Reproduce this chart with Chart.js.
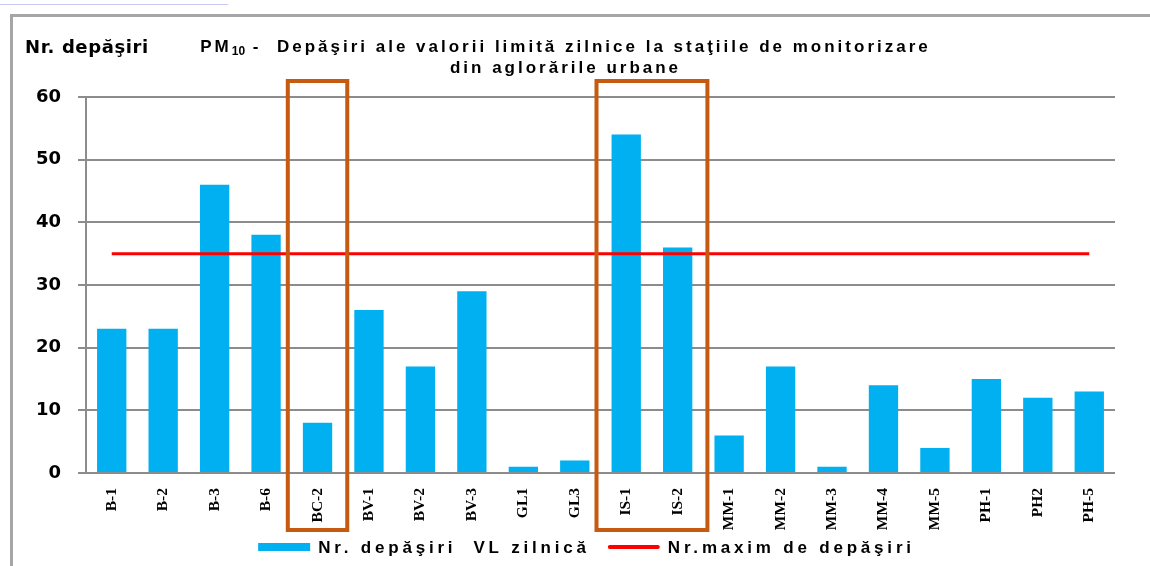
<!DOCTYPE html>
<html>
<head>
<meta charset="utf-8">
<script src="https://cdn.jsdelivr.net/npm/chart.js@4"></script>
<style>
  body { margin: 0; background: #fff; }
  #wrap { position: relative; width: 1150px; height: 566px; overflow: hidden; }
  #frame { position: absolute; left: 10px; top: 14px; right: -5px; bottom: -5px;
           border-left: 3px solid #a6a6a6; border-top: 3px solid #a6a6a6; }
  #topline { position: absolute; left: 0; top: 4px; width: 228px; height: 1px; background: #c8c8f4; }
  canvas { position: absolute; left: 0; top: 0; }
</style>
</head>
<body>
<div id="wrap">
  <div id="topline"></div>
  <div id="frame"></div>
  <canvas id="chart" width="1150" height="566"></canvas>
</div>
<script>
const categories = ['B-1', 'B-2', 'B-3', 'B-6', 'BC-2', 'BV-1', 'BV-2', 'BV-3', 'GL1', 'GL3',
  'IS-1', 'IS-2', 'MM-1', 'MM-2', 'MM-3', 'MM-4', 'MM-5', 'PH-1', 'PH2', 'PH-5'];
const exceedances = [23, 23, 46, 38, 8, 26, 17, 29, 1, 2, 54, 36, 6, 17, 1, 14, 4, 15, 12, 13];
const maxExceedances = [35, 35, 35, 35, 35, 35, 35, 35, 35, 35, 35, 35, 35, 35, 35, 35, 35, 35, 35, 35];
const boxedGroups = [['BC-2'], ['IS-1', 'IS-2']];
const yMin = 0, yMax = 60, yStep = 10;

// first title line is split so "10" can be drawn as a subscript
const titleLine1 = [['PM', false], ['10', true], [' -  Depăşiri ale valorii limită zilnice la staţiile de monitorizare', false]];
const titleLine2 = 'din aglorările urbane';
const yAxisTitle = 'Nr. depăşiri';
const seriesNames = ['Nr. depăşiri  VL zilnică', 'Nr.maxim de depăşiri'];

const TITLE_FONT = 'bold 17px "Liberation Sans", Arial, sans-serif';
const SUB_FONT = 'bold 12px "Liberation Sans", Arial, sans-serif';

// title, legend, y caption and the highlight rectangles (the spaced-out
// lettering of the original needs letterSpacing, which Chart.js can't do)
const overlay = {
  id: 'overlay',
  afterDraw(chart) {
    const ctx = chart.ctx;
    const x = chart.scales.x;
    const area = chart.chartArea;
    const half = (x.getPixelForValue(1) - x.getPixelForValue(0)) / 2;
    ctx.save();

    ctx.strokeStyle = '#c55a11';
    ctx.lineWidth = 4;
    boxedGroups.forEach(g => {
      const left = x.getPixelForValue(categories.indexOf(g[0])) - half - 4;
      const right = x.getPixelForValue(categories.indexOf(g[g.length - 1])) + half + 4;
      ctx.strokeRect(left, area.top - 16, right - left, area.bottom - area.top + 73);
    });

    ctx.fillStyle = '#000';
    ctx.textBaseline = 'middle';
    ctx.textAlign = 'left';
    ctx.font = 'bold 18px "DejaVu Sans"';
    ctx.letterSpacing = '0.6px';
    ctx.fillText(yAxisTitle, area.left - 61, area.top - 49);

    // title
    const cx = (area.left + area.right) / 2 - 35;
    ctx.letterSpacing = '3px';
    const parts = titleLine1.map(([t, sub]) => {
      ctx.font = sub ? SUB_FONT : TITLE_FONT;
      ctx.letterSpacing = sub ? '0px' : '3px';
      return { t, sub, w: ctx.measureText(t).width };
    });
    let tx = cx - parts.reduce((s, p) => s + p.w, 0) / 2;
    parts.forEach(p => {
      ctx.font = p.sub ? SUB_FONT : TITLE_FONT;
      ctx.letterSpacing = p.sub ? '0px' : '3px';
      ctx.fillText(p.t, tx, area.top - 50 + (p.sub ? 5 : 0));
      tx += p.w;
    });
    ctx.font = TITLE_FONT;
    ctx.letterSpacing = '3px';
    ctx.textAlign = 'center';
    ctx.fillText(titleLine2, cx, area.top - 29);

    // legend
    ctx.letterSpacing = '3.8px';
    ctx.textAlign = 'left';
    const ds = chart.data.datasets;
    const markW = 52, gap = 8, itemGap = 18;
    const widths = seriesNames.map(t => markW + gap + ctx.measureText(t).width);
    const total = widths[0] + itemGap + widths[1];
    let lx = (area.left + area.right) / 2 - 14 - total / 2;
    const ly = area.bottom + 74;
    seriesNames.forEach((t, i) => {
      if (ds[i].type === 'bar') {
        ctx.fillStyle = ds[i].backgroundColor;
        ctx.fillRect(lx, ly - 4, markW, 8);
      } else {
        ctx.strokeStyle = ds[i].borderColor;
        ctx.lineWidth = 4;
        ctx.lineCap = 'round';
        ctx.beginPath();
        ctx.moveTo(lx + 2, ly);
        ctx.lineTo(lx + markW - 2, ly);
        ctx.stroke();
      }
      ctx.fillStyle = '#000';
      ctx.fillText(t, lx + markW + gap, ly + 1);
      lx += widths[i] + itemGap;
    });
    ctx.letterSpacing = '0px';
    ctx.restore();
    ctx.letterSpacing = '0px';
  }
};

Chart.defaults.font.family = '"Liberation Sans", Arial, sans-serif';
Chart.defaults.color = '#000';

new Chart(document.getElementById('chart'), {
  data: {
    labels: categories,
    datasets: [
      {
        type: 'bar',
        label: seriesNames[0],
        data: exceedances,
        backgroundColor: '#00b0f0',
        borderWidth: 0,
        barPercentage: 0.57,
        categoryPercentage: 1,
        order: 2
      },
      {
        type: 'line',
        label: seriesNames[1],
        data: maxExceedances,
        borderColor: '#ff0000',
        backgroundColor: '#ff0000',
        borderWidth: 3,
        pointRadius: 0,
        order: 1
      }
    ]
  },
  options: {
    responsive: false,
    animation: false,
    layout: { padding: { left: 20, right: 35, top: 97, bottom: 29 } },
    plugins: {
      title: { display: false },
      legend: { display: false },
      tooltip: { enabled: false }
    },
    scales: {
      x: {
        grid: { display: false, drawTicks: false },
        border: { display: false },
        ticks: {
          minRotation: 90,
          maxRotation: 90,
          padding: 15,
          font: { family: '"Liberation Serif", "Times New Roman", serif', size: 15.5, weight: 'bold' }
        },
        afterFit(s) { s.height = 64; }
      },
      y: {
        min: yMin,
        max: yMax,
        ticks: {
          stepSize: yStep,
          padding: 17,
          font: { family: '"DejaVu Sans"', size: 18, weight: 'bold' }
        },
        grid: { color: '#8c8c8c', lineWidth: 2, tickLength: 8 },
        border: { color: '#8c8c8c', width: 2 },
        afterFit(s) { s.width = 66; }
      }
    }
  },
  plugins: [overlay]
});
</script>
</body>
</html>
